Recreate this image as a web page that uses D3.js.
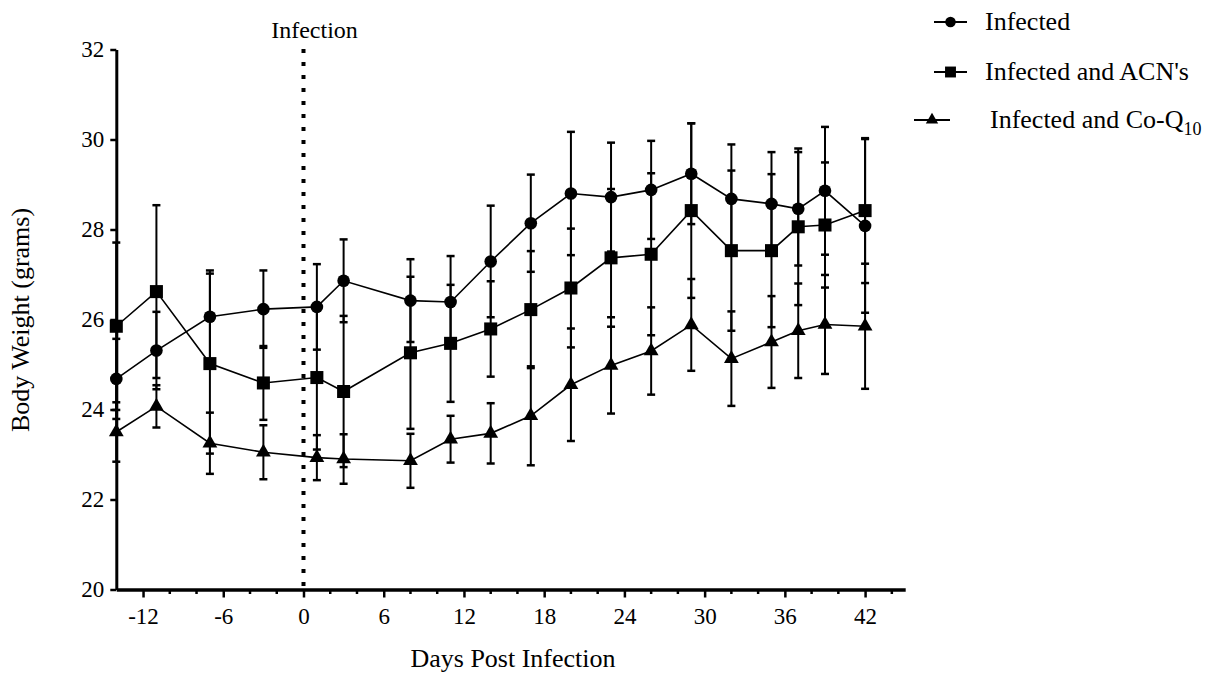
<!DOCTYPE html>
<html>
<head>
<meta charset="utf-8">
<script src="https://cdn.jsdelivr.net/npm/d3@7"></script>
<style>
  body { margin: 0; background: #fff; }
  svg text { font-family: "Liberation Serif", Tinos, "Times New Roman", "DejaVu Serif", serif; fill: #000; }
</style>
</head>
<body>
<script>
// days the mice were weighed
var days = [-14, -11, -7, -3, 1, 3, 8, 11, 14, 17, 20, 23, 26, 29, 32, 35, 37, 39, 42];

// Infected group
var infectedMean = [24.68, 25.31, 26.06, 26.23, 26.28, 26.86, 26.42, 26.39, 27.29, 28.14, 28.80, 28.72, 28.88, 29.24, 28.68, 28.57, 28.46, 28.86, 28.08];
var infectedSD   = [0.89, 0.86, 1.03, 0.86, 0.95, 0.92, 0.92, 1.02, 1.24, 1.08, 1.37, 1.21, 1.09, 1.12, 1.21, 1.15, 1.26, 1.42, 1.93];

// Infected and ACN's
var acnMean = [25.85, 26.62, 25.02, 24.59, 24.71, 24.40, 25.26, 25.47, 25.79, 26.22, 26.70, 27.37, 27.45, 28.42, 27.53, 27.53, 28.06, 28.10, 28.42];
var acnSD   = [1.86, 1.92, 2.00, 0.82, 1.60, 1.68, 1.69, 1.30, 1.06, 1.30, 1.32, 1.53, 1.80, 1.94, 1.78, 1.70, 1.74, 1.39, 1.61];

// Infected and Co-Q10
var coqMean = [23.50, 24.07, 23.25, 23.05, 22.93, 22.90, 22.86, 23.34, 23.47, 23.86, 24.55, 24.98, 25.30, 25.88, 25.13, 25.50, 25.75, 25.89, 25.85];
var coqSD   = [0.66, 0.47, 0.68, 0.60, 0.50, 0.55, 0.60, 0.52, 0.67, 1.10, 1.25, 1.07, 0.97, 1.02, 1.05, 1.02, 1.05, 1.10, 1.39];

// axis ticks
var xTicks = [-12, -6, 0, 6, 12, 18, 24, 30, 36, 42];
var yTicks = [20, 22, 24, 26, 28, 30, 32];

function drawChart() {
  var w = 1216;
  var h = 675;

  var xScale = d3.scaleLinear()
                .domain([-14, 45])
                .range([116.3, 905.2]);
  var yScale = d3.scaleLinear()
                .domain([20, 32])
                .range([589.5, 49.5]);

  var svg = d3.select("body")
              .append("svg")
              .attr("width", w)
              .attr("height", h);

  // build the series table from the arrays
  var series = [
    { name: "Infected", mean: infectedMean, sd: infectedSD, shape: d3.symbolCircle, size: 125 },
    { name: "Infected and ACN's", mean: acnMean, sd: acnSD, shape: d3.symbolSquare, size: 170 },
    { name: "Infected and Co-Q", mean: coqMean, sd: coqSD, shape: d3.symbolTriangle, size: 95 }
  ];
  series.forEach(function(s) {
    s.points = days.map(function(d, i) { return { day: d, mean: s.mean[i], sd: s.sd[i] }; });
  });

  // dotted infection line at day 0
  svg.append("line")
     .attr("x1", xScale(0)).attr("x2", xScale(0))
     .attr("y1", 49).attr("y2", yScale(20))
     .attr("stroke", "#000")
     .attr("stroke-width", 4)
     .attr("stroke-dasharray", "4,9");
  svg.append("text")
     .attr("x", xScale(0) + 11)
     .attr("y", 38)
     .attr("text-anchor", "middle")
     .attr("font-size", "24px")
     .text("Infection");

  // x axis
  var xAxis = d3.axisBottom(xScale)
                .tickValues(xTicks)
                .tickSize(8)
                .tickSizeOuter(0)
                .tickPadding(10)
                .tickFormat(d3.format("d"));
  var gx = svg.append("g")
              .attr("transform", "translate(0," + yScale(20) + ")")
              .call(xAxis);
  gx.attr("font-family", null);
  gx.select(".domain").attr("stroke-width", 3.5);
  gx.selectAll(".tick line").attr("stroke-width", 2.5);
  gx.selectAll(".tick text")
    .attr("font-size", "23px")
    .text(function(d) { return d < 0 ? "-" + Math.abs(d) : d; });

  // minor x ticks
  var minor = d3.range(-10, 45, 2).filter(function(d) { return xTicks.indexOf(d) < 0; });
  svg.append("g")
     .selectAll("line")
     .data(minor)
     .enter()
     .append("line")
     .attr("x1", function(d) { return xScale(d); })
     .attr("x2", function(d) { return xScale(d); })
     .attr("y1", yScale(20))
     .attr("y2", yScale(20) + 4.5)
     .attr("stroke", "#000")
     .attr("stroke-width", 2.5);

  // y axis
  var yAxis = d3.axisLeft(yScale)
                .tickValues(yTicks)
                .tickSize(6)
                .tickSizeOuter(0)
                .tickPadding(6);
  var gy = svg.append("g")
              .attr("transform", "translate(" + xScale(-14) + ",0)")
              .call(yAxis);
  gy.attr("font-family", null);
  gy.select(".domain").attr("stroke-width", 3);
  gy.selectAll(".tick line").attr("stroke-width", 2.5);
  gy.selectAll(".tick text")
    .attr("font-size", "23px");

  // axis titles
  svg.append("text")
     .attr("x", 513)
     .attr("y", 667)
     .attr("text-anchor", "middle")
     .attr("font-size", "26px")
     .text("Days Post Infection");
  svg.append("text")
     .attr("transform", "translate(29,320) rotate(-90)")
     .attr("text-anchor", "middle")
     .attr("font-size", "26px")
     .text("Body Weight (grams)");

  var line = d3.line()
               .x(function(d) { return xScale(d.day); })
               .y(function(d) { return yScale(d.mean); });

  series.forEach(function(s) {
    var g = svg.append("g");
    // connecting line
    g.append("path")
     .datum(s.points)
     .attr("d", line)
     .attr("fill", "none")
     .attr("stroke", "#000")
     .attr("stroke-width", 1.6);
    // error bars
    g.selectAll(".bar")
     .data(s.points)
     .enter()
     .append("line")
     .attr("x1", function(d) { return xScale(d.day); })
     .attr("x2", function(d) { return xScale(d.day); })
     .attr("y1", function(d) { return yScale(d.mean - d.sd); })
     .attr("y2", function(d) { return yScale(d.mean + d.sd); })
     .attr("stroke", "#000")
     .attr("stroke-width", 2);
    // caps
    [1, -1].forEach(function(sign) {
      g.selectAll(".cap")
       .data(s.points)
       .enter()
       .append("line")
       .attr("x1", function(d) { return xScale(d.day) - 4; })
       .attr("x2", function(d) { return xScale(d.day) + 4; })
       .attr("y1", function(d) { return yScale(d.mean + sign * d.sd); })
       .attr("y2", function(d) { return yScale(d.mean + sign * d.sd); })
       .attr("stroke", "#000")
       .attr("stroke-width", 2.5);
    });
  });

  // markers on top
  series.forEach(function(s) {
    svg.append("g")
       .selectAll("path")
       .data(s.points)
       .enter()
       .append("path")
       .attr("transform", function(d) { return "translate(" + xScale(d.day) + "," + yScale(d.mean) + ")"; })
       .attr("d", d3.symbol().type(s.shape).size(s.size))
       .attr("fill", "#000");
  });

  // legend
  var legendPos = [
    { x1: 934, x2: 967, y: 22, tx: 985 },
    { x1: 934, x2: 967, y: 72, tx: 985 },
    { x1: 914, x2: 950, y: 120, tx: 990 }
  ];
  series.forEach(function(s, i) {
    var p = legendPos[i];
    var lg = svg.append("g");
    lg.append("line")
      .attr("x1", p.x1).attr("x2", p.x2)
      .attr("y1", p.y).attr("y2", p.y)
      .attr("stroke", "#000")
      .attr("stroke-width", 2);
    lg.append("path")
      .attr("transform", "translate(" + ((p.x1 + p.x2) / 2) + "," + p.y + ")")
      .attr("d", d3.symbol().type(s.shape).size(s.size * 0.7))
      .attr("fill", "#000");
    var t = lg.append("text")
      .attr("x", p.tx)
      .attr("y", p.y + 8)
      .attr("font-size", "26px")
      .text(s.name);
    if (i === 2) {
      t.append("tspan")
       .attr("dy", 7)
       .attr("font-size", "18px")
       .text("10");
    }
  });
}

window.onload = function() {
  drawChart();
};
</script>
</body>
</html>
